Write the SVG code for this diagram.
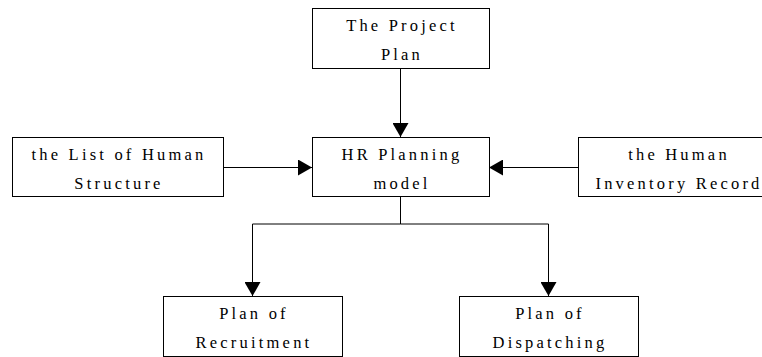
<svg xmlns="http://www.w3.org/2000/svg" width="762" height="357" viewBox="0 0 762 357">
<defs>
<style>
.box{fill:#fff;stroke:#000;stroke-width:1}
.t{font-family:"Liberation Serif",serif;font-size:16.5px;letter-spacing:3.2px;text-anchor:middle;fill:#000}
.c{fill:none;stroke:#000;stroke-width:1}
</style>
<marker id="ah" markerWidth="14" markerHeight="16" refX="14" refY="8" orient="auto" markerUnits="userSpaceOnUse">
<path d="M0,0 L14,8 L0,16 Z" fill="#000"/>
</marker>
</defs>
<rect width="762" height="357" fill="#fff"/>
<g id="connectors">
<line class="c" x1="400.5" y1="68" x2="400.5" y2="137" marker-end="url(#ah)"/>
<line class="c" x1="223" y1="167.5" x2="312" y2="167.5" marker-end="url(#ah)"/>
<line class="c" x1="578" y1="167.5" x2="489" y2="167.5" marker-end="url(#ah)"/>
<polyline class="c" points="400.5,196 400.5,224"/>
<path class="c" d="M400.5,224 H252.5 V296" marker-end="url(#ah)"/>
<path class="c" d="M400.5,224 H548.5 V296" marker-end="url(#ah)"/>
</g>
<g id="project-plan">
<rect class="box" x="312.5" y="8.5" width="177" height="60"/>
<text class="t" x="402" y="31">The Project</text>
<text class="t" x="402" y="60">Plan</text>
</g>
<g id="list-human-structure">
<rect class="box" x="12.5" y="137.5" width="211" height="59"/>
<text class="t" x="119" y="160">the List of Human</text>
<text class="t" x="119" y="189">Structure</text>
</g>
<g id="hr-planning-model">
<rect class="box" x="312.5" y="137.5" width="177" height="59"/>
<text class="t" x="402" y="160">HR Planning</text>
<text class="t" x="402" y="189">model</text>
</g>
<g id="human-inventory-record">
<rect class="box" x="578.5" y="137.5" width="200" height="59"/>
<text class="t" x="679" y="160">the Human</text>
<text class="t" x="679" y="189">Inventory Record</text>
</g>
<g id="plan-recruitment">
<rect class="box" x="163.5" y="296.5" width="179" height="60"/>
<text class="t" x="254" y="319">Plan of</text>
<text class="t" x="254" y="348">Recruitment</text>
</g>
<g id="plan-dispatching">
<rect class="box" x="459.5" y="296.5" width="179" height="60"/>
<text class="t" x="550" y="319">Plan of</text>
<text class="t" x="550" y="348">Dispatching</text>
</g>
</svg>
